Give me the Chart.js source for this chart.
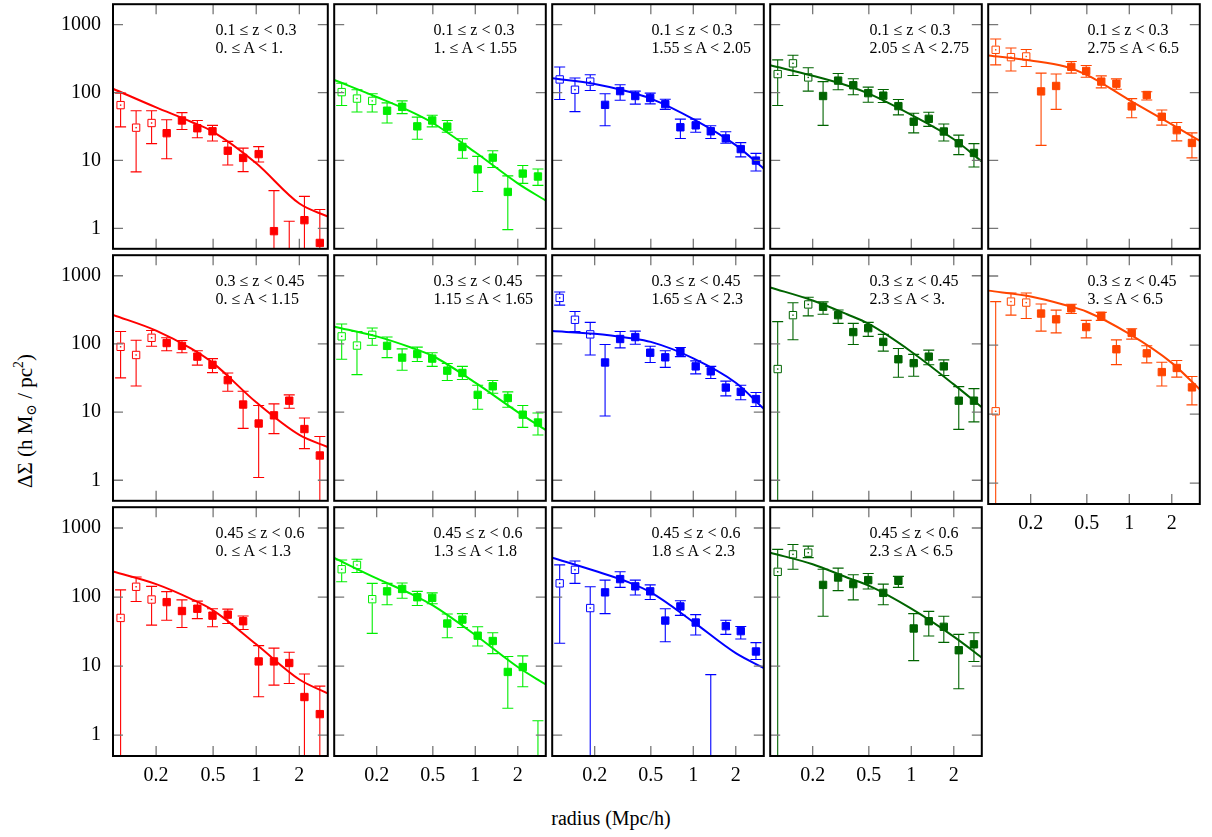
<!DOCTYPE html>
<html>
<head>
<meta charset="utf-8">
<title>Lensing profiles</title>
<script src="https://cdn.jsdelivr.net/npm/chart.js@4.4.1/dist/chart.umd.min.js"></script>
<style>
  html, body { margin: 0; padding: 0; background: #fff; }
  #page { position: relative; width: 1212px; height: 837px; overflow: hidden;
          font-family: "Liberation Serif", "DejaVu Serif", serif; color: #000; }
  #page canvas { position: absolute; }
  .tag { position: absolute; font-size: 16px; line-height: 18px; white-space: nowrap; }
  #ytitle { position: absolute; left: 25px; top: 421px; font-size: 21px; white-space: nowrap;
            transform: translate(-50%, -50%) rotate(-90deg); }
  #xtitle { position: absolute; left: 611px; top: 818px; font-size: 20px; white-space: nowrap;
            transform: translate(-50%, -50%); }
  sub { font-size: 65%; vertical-align: -0.35em; line-height: 0; }
  sup { font-size: 65%; vertical-align: 0.65em; line-height: 0; }
</style>
</head>
<body>
<div id="page">
  <div id="ytitle">ΔΣ (h M<sub>⊙</sub> / pc<sup>2</sup>)</div>
  <div id="xtitle">radius (Mpc/h)</div>
</div>
<script>
// radial bins (Mpc/h), same in every panel
var radius = [0.113, 0.145, 0.186, 0.237, 0.303, 0.388, 0.495, 0.633, 0.81, 1.04, 1.33, 1.7, 2.17, 2.78];
// radii where the model curve is sampled
var fitRadius = [0.1, 0.2, 0.35, 0.5, 1, 2, 3.16];
var xTicks = [0.2, 0.5, 1, 2];
var yTicks = [1, 10, 100, 1000];

var zBins = ["0.1 ≤ z < 0.3", "0.3 ≤ z < 0.45", "0.45 ≤ z < 0.6"];
var aBins = [
  ["0. ≤ A < 1.", "1. ≤ A < 1.55", "1.55 ≤ A < 2.05", "2.05 ≤ A < 2.75", "2.75 ≤ A < 6.5"],
  ["0. ≤ A < 1.15", "1.15 ≤ A < 1.65", "1.65 ≤ A < 2.3", "2.3 ≤ A < 3.", "3. ≤ A < 6.5"],
  ["0. ≤ A < 1.3", "1.3 ≤ A < 1.8", "1.8 ≤ A < 2.3", "2.3 ≤ A < 6.5"]
];

// 0.1 <= z < 0.3
var ds11 = [65.3, 30.4, 35.6, 25.2, 38.8, 29.8, 26.9, 13.9, 10.9, 12.4, 0.91, null, 1.32, 0.61];
var lo11 = [31.2, 6.8, 17.7, 10.6, 28.5, 21.6, 19.3, 8.55, 6.84, 9.5, 0.1, 0.1, 0.1, 0.1];
var hi11 = [98, 54, 54, 39.7, 50.6, 38.8, 32.9, 19.1, 15.2, 16.0, 3.6, 1.27, 2.96, 1.9];
var fit11 = [113.6, 60.4, 37.2, 26.4, 9.1, 2.32, 1.49];

var ds12 = [101.5, 81.5, 75.3, 54, 61.7, 31.8, 38.8, 31.5, 15.8, 7.39, 11, 3.44, 6.41, 5.8];
var lo12 = [64.6, 51.8, 51.8, 35.6, 49, 20.5, 31.2, 26, 10.8, 3.49, 7.89, 0.957, 4.6, 4.3];
var hi12 = [137, 110, 96.2, 70.5, 75.3, 43.4, 46.4, 38.8, 20.9, 11.5, 13.9, 5.93, 8.43, 7.48];
var fit12 = [153, 86, 52.3, 35.6, 13.2, 4.6, 2.56];

var ds13 = [156, 110, 145, 65.9, 105, 88.9, 83.2, 67.5, 30.8, 32.9, 26.9, 21.1, 14.7, 9.96];
var lo13 = [78.9, 52.3, 107, 32.5, 77, 67.5, 68.2, 56.6, 21.1, 26, 21.1, 17.9, 11.3, 7.0];
var hi13 = [238, 164, 183, 96.2, 130, 105, 98, 79.7, 40.6, 40.6, 32.5, 26.4, 18.3, 12.7];
var fit13 = [162, 134, 103, 81.5, 40.6, 16.8, 7.56];

var ds14 = [187, 269, 167, 88.9, 150, 128, 98, 90, 63.1, 37.2, 41, 26.7, 17.9, 12.9];
var lo14 = [64.6, 178, 105, 32.9, 110, 93, 72.1, 71.3, 46.9, 25.5, 31.8, 19.3, 12.2, 8.0];
var hi14 = [303, 354, 232, 145, 191, 160, 120, 111, 78.9, 49.6, 51.3, 34.4, 23.6, 17.7];
var fit14 = [252, 177, 127, 96.2, 46.9, 20.5, 9.64];

var ds15 = [426, 332, 340, 104, 125, 239, 208, 145, 135, 62.5, 92, 44, 27.9, 18.1];
var lo15 = [256, 208, 242, 16.7, 56.5, 193, 168, 117, 112, 42.5, 77.6, 33.1, 19.4, 10.9];
var hi15 = [614, 452, 431, 193, 188, 286, 250, 176, 159, 81.3, 103, 55.2, 36.3, 25.5];
var fit15 = [352, 297, 242, 182, 77.6, 33.9, 19.4];

// 0.3 <= z < 0.45
var ds21 = [90.6, 68.8, 123, 103, 93.6, 65.1, 49.4, 29.4, 12.9, 6.8, 8.96, 14.7, 5.64, 2.31];
var lo21 = [31.8, 24.1, 92.6, 79.4, 74.3, 48.9, 37.9, 20.2, 5.77, 1.1, 4.83, 11.4, 2.91, 0.1];
var hi21 = [152, 113, 157, 123, 112, 79.4, 60.9, 37.5, 20.2, 12.5, 13.2, 17.9, 8.2, 4.38];
var fit21 = [267, 157, 85.7, 52.2, 13.9, 4.62, 3.08];

var ds22 = [129, 94.6, 136, 93.6, 63, 71.1, 60.9, 40.5, 37.5, 17.9, 23.9, 16.1, 9.16, 7.03];
var lo22 = [59.6, 35.5, 95.6, 63, 41, 55.2, 46.8, 29.1, 30.1, 11.0, 18.9, 11.8, 5.96, 4.62];
var hi22 = [196, 152, 171, 126, 84.7, 89.6, 74.3, 51.6, 46.8, 24.7, 29.1, 19.8, 12.5, 9.68];
var fit22 = [179, 129, 88.6, 66.5, 27, 10, 5.45];

var ds23 = [473, 226, 138, 53.4, 118, 126, 74.3, 63.6, 76.8, 46.8, 39.6, 22.9, 19.8, 15.5];
var lo23 = [371, 152, 68.8, 8.76, 87.6, 98.9, 53.4, 45.3, 65.1, 36.3, 31.1, 17.3, 15.2, 12.1];
var hi23 = [577, 298, 207, 97.8, 152, 154, 92.6, 79.4, 88.6, 56.4, 46.8, 28.5, 24.7, 19.4];
var fit23 = [154, 141, 122, 107, 61.5, 27, 11.2];

var ds24 = [42.8, 264, 379, 351, 264, 149, 170, 107, 59.6, 52.2, 65.1, 46.8, 14.7, 14.7];
var lo24 = [0.1, 115, 258, 272, 200, 97.8, 129, 78.5, 32.5, 33.6, 49.4, 34.4, 5.57, 7.18];
var hi24 = [212, 401, 483, 414, 315, 200, 207, 138, 85.7, 70.3, 81.1, 58.3, 23.6, 22.1];
var fit24 = [673, 433, 272, 196, 76.8, 25.5, 11.8];

var ds25 = [11, 426, 412, 286, 236, 340, 182, 265, 87, 150, 75.9, 40.6, 46.6, 24.4];
var lo25 = [0.1, 271, 242, 159, 150, 286, 127, 228, 52.1, 122, 55.2, 25.5, 34.3, 13.6];
var hi25 = [426, 566, 566, 394, 321, 389, 228, 297, 119, 172, 97.5, 56.5, 59.8, 35.1];
var fit25 = [614, 506, 381, 304, 145, 55.2, 22.8];

// 0.45 <= z < 0.6
var ds31 = [49.9, 141, 92.2, 84.5, 62.8, 67.8, 53.8, 55.6, 44.7, 11.7, 11.7, 11.1, 3.57, 2.02];
var lo31 = [0.1, 86.3, 39.2, 46.2, 36.3, 48.8, 37.1, 41.4, 34, 3.61, 5.31, 5.61, 0.1, 0.1];
var hi31 = [127, 195, 143, 120, 91.2, 87.3, 67.8, 67, 53.2, 19.8, 18.2, 15.9, 7.71, 5.14];
var fit31 = [234, 154, 94.2, 64.2, 20.7, 6.4, 4.03];

var ds32 = [253, 292, 93.2, 121, 131, 99.5, 97.4, 41.4, 47.2, 27.6, 23.1, 8.24, 9.7, null];
var lo32 = [167, 227, 29.8, 77.3, 96.3, 75.6, 79.9, 25.8, 36.3, 19.6, 15.2, 2.46, 5.02, 0.1];
var hi32 = [344, 352, 158, 158, 160, 121, 115, 56.9, 57.5, 37.1, 30.4, 13.8, 14.1, 1.62];
var fit32 = [368, 186, 111, 75.6, 28.2, 9.7, 5.42];

var ds33 = [158, 248, 69.3, 117, 182, 143, 121, 45.7, 73.2, 42.8, null, 37.9, 32.1, 16.3];
var lo33 = [21.4, 158, 0.1, 57.5, 138, 107, 92.2, 22.6, 54.4, 28.2, 0.1, 28.8, 24.7, 12.5];
var hi33 = [292, 333, 141, 176, 232, 176, 150, 67.8, 88.3, 55.6, 7.54, 46.2, 37.5, 21.9];
var fit33 = [372, 240, 163, 117, 43.7, 15.4, 9.4];

var ds34 = [232, 415, 439, 150, 192, 154, 176, 115, 172, 35.1, 44.7, 37.1, 17.0, 20.7];
var lo34 = [0.1, 253, 372, 52.7, 124, 91.2, 131, 77.3, 138, 12.0, 27.3, 22.1, 4.7, 11.7];
var hi34 = [490, 577, 546, 253, 262, 210, 219, 154, 199, 57.5, 62.1, 52.7, 28.8, 30.4];
var fit34 = [439, 299, 192, 146, 67.8, 26.7, 13.3];

var panels = [
  { row: 0, col: 0, val: ds11, lo: lo11, hi: hi11, fit: fit11 },
  { row: 0, col: 1, val: ds12, lo: lo12, hi: hi12, fit: fit12 },
  { row: 0, col: 2, val: ds13, lo: lo13, hi: hi13, fit: fit13 },
  { row: 0, col: 3, val: ds14, lo: lo14, hi: hi14, fit: fit14 },
  { row: 0, col: 4, val: ds15, lo: lo15, hi: hi15, fit: fit15 },
  { row: 1, col: 0, val: ds21, lo: lo21, hi: hi21, fit: fit21 },
  { row: 1, col: 1, val: ds22, lo: lo22, hi: hi22, fit: fit22 },
  { row: 1, col: 2, val: ds23, lo: lo23, hi: hi23, fit: fit23 },
  { row: 1, col: 3, val: ds24, lo: lo24, hi: hi24, fit: fit24 },
  { row: 1, col: 4, val: ds25, lo: lo25, hi: hi25, fit: fit25 },
  { row: 2, col: 0, val: ds31, lo: lo31, hi: hi31, fit: fit31 },
  { row: 2, col: 1, val: ds32, lo: lo32, hi: hi32, fit: fit32 },
  { row: 2, col: 2, val: ds33, lo: lo33, hi: hi33, fit: fit33 },
  { row: 2, col: 3, val: ds34, lo: lo34, hi: hi34, fit: fit34 }
];

// one colour per A column
var colors = ["#ff0000", "#00ee00", "#0000ff", "#006400", "#ff4500"];

// panel geometry (px)
var colLeft = [113, 331, 549, 767, 985];
var rowTop = [1, 252, 504];
var panelW = 218;
var panelH = [251, 252, 252];
var pad = 3, yAxisW = 70, xAxisH = 40;
var nOpen = 3; // innermost bins drawn as open squares
var tickFont = { family: "'Liberation Serif', serif", size: 20 };

// error bars, drawn under the markers
var errorBars = {
  id: "errorBars",
  beforeDatasetsDraw: function (chart) {
    var ds = chart.data.datasets[0];
    var x = chart.scales.x, y = chart.scales.y, a = chart.chartArea, ctx = chart.ctx;
    ctx.save();
    ctx.beginPath();
    ctx.rect(a.left, a.top, a.right - a.left, a.bottom - a.top);
    ctx.clip();
    ctx.strokeStyle = ds.borderColor;
    ctx.fillStyle = ds.borderColor;
    ctx.lineWidth = 1.1;
    ds.data.forEach(function (d, i) {
      var px = x.getPixelForValue(d.x);
      var top = y.getPixelForValue(ds.errHi[i]);
      var bot = y.getPixelForValue(ds.errLo[i]);
      ctx.beginPath();
      if (i < nOpen && d.y != null) {
        var py = y.getPixelForValue(d.y);
        ctx.moveTo(px, top); ctx.lineTo(px, py - 4);
        ctx.moveTo(px, py + 4); ctx.lineTo(px, bot);
        ctx.fillRect(px - 0.7, py - 0.7, 1.4, 1.4);
      } else {
        ctx.moveTo(px, top); ctx.lineTo(px, bot);
      }
      ctx.moveTo(px - 5.5, top); ctx.lineTo(px + 5.5, top);
      ctx.moveTo(px - 5.5, bot); ctx.lineTo(px + 5.5, bot);
      ctx.stroke();
    });
    ctx.restore();
  }
};

// panel border and inward ticks on all four sides
var frame = {
  id: "frame",
  afterDraw: function (chart) {
    var a = chart.chartArea, ctx = chart.ctx, x = chart.scales.x, y = chart.scales.y;
    ctx.save();
    ctx.strokeStyle = "#777";
    ctx.lineWidth = 1.3;
    ctx.beginPath();
    xTicks.forEach(function (v) {
      var p = x.getPixelForValue(v);
      ctx.moveTo(p, a.top); ctx.lineTo(p, a.top + 10);
      ctx.moveTo(p, a.bottom); ctx.lineTo(p, a.bottom - 10);
    });
    yTicks.forEach(function (v) {
      var p = y.getPixelForValue(v);
      ctx.moveTo(a.left, p); ctx.lineTo(a.left + 10, p);
      ctx.moveTo(a.right, p); ctx.lineTo(a.right - 10, p);
    });
    ctx.stroke();
    ctx.strokeStyle = "#000";
    ctx.lineWidth = 2;
    ctx.strokeRect(a.left, a.top, a.right - a.left, a.bottom - a.top);
    ctx.restore();
  }
};

// keep the plot area fixed: no extra room for end labels
function noPadding(s) {
  s.paddingLeft = 0;
  s.paddingRight = 0;
  s.paddingTop = 0;
  s.paddingBottom = 0;
}

var page = document.getElementById("page");

panels.forEach(function (p) {
  var color = colors[p.col];
  var showY = p.col === 0;
  var showX = p.row === 2 || (p.row === 1 && p.col === 4);

  var canvas = document.createElement("canvas");
  var w = panelW + 2 * pad + (showY ? yAxisW : 0);
  var h = panelH[p.row] + 2 * pad + (showX ? xAxisH : 0);
  canvas.width = w;
  canvas.height = h;
  canvas.style.width = w + "px";
  canvas.style.height = h + "px";
  canvas.style.left = (colLeft[p.col] - pad - (showY ? yAxisW : 0)) + "px";
  canvas.style.top = (rowTop[p.row] - pad) + "px";
  page.appendChild(canvas);

  var tag = document.createElement("div");
  tag.className = "tag";
  tag.style.left = (colLeft[p.col] + 102.5) + "px";
  tag.style.top = (rowTop[p.row] + 19.5) + "px";
  var l1 = document.createElement("div");
  l1.textContent = zBins[p.row];
  var l2 = document.createElement("div");
  l2.textContent = aBins[p.row][p.col];
  tag.appendChild(l1);
  tag.appendChild(l2);
  page.appendChild(tag);

  var points = radius.map(function (r, i) { return { x: r, y: p.val[i] }; });
  var curve = fitRadius.map(function (r, i) { return { x: r, y: p.fit[i] }; });

  new Chart(canvas.getContext("2d"), {
    type: "line",
    data: {
      datasets: [
        {
          label: "data",
          data: points,
          errLo: p.lo,
          errHi: p.hi,
          showLine: false,
          borderColor: color,
          pointStyle: "rect",
          pointRadius: 5.2,
          pointBorderWidth: 1,
          pointBorderColor: color,
          pointBackgroundColor: function (c) { return c.dataIndex < nOpen ? "rgba(0,0,0,0)" : color; }
        },
        {
          label: "model",
          data: curve,
          borderColor: color,
          borderWidth: 2,
          pointRadius: 0,
          fill: false,
          cubicInterpolationMode: "monotone",
          clip: 0
        }
      ]
    },
    options: {
      responsive: false,
      animation: false,
      events: [],
      layout: { padding: pad },
      plugins: { legend: { display: false }, tooltip: { enabled: false } },
      scales: {
        x: {
          type: "logarithmic",
          min: 0.1,
          max: 3.16,
          display: showX,
          afterBuildTicks: function (s) { s.ticks = xTicks.map(function (v) { return { value: v }; }); },
          afterFit: function (s) { noPadding(s); if (showX) s.height = xAxisH; },
          ticks: {
            autoSkip: false, maxRotation: 0, padding: 8, color: "#000", font: tickFont,
            callback: function (v) { return String(v); }
          },
          grid: { display: false, drawTicks: false },
          border: { display: false }
        },
        y: {
          type: "logarithmic",
          min: 0.5,
          max: 2000,
          display: showY,
          afterBuildTicks: function (s) { s.ticks = yTicks.map(function (v) { return { value: v }; }); },
          afterFit: function (s) { noPadding(s); if (showY) s.width = yAxisW; },
          ticks: {
            autoSkip: false, padding: 12, color: "#000", font: tickFont,
            callback: function (v) { return String(v); }
          },
          grid: { display: false, drawTicks: false },
          border: { display: false }
        }
      }
    },
    plugins: [errorBars, frame]
  });
});
</script>
</body>
</html>
